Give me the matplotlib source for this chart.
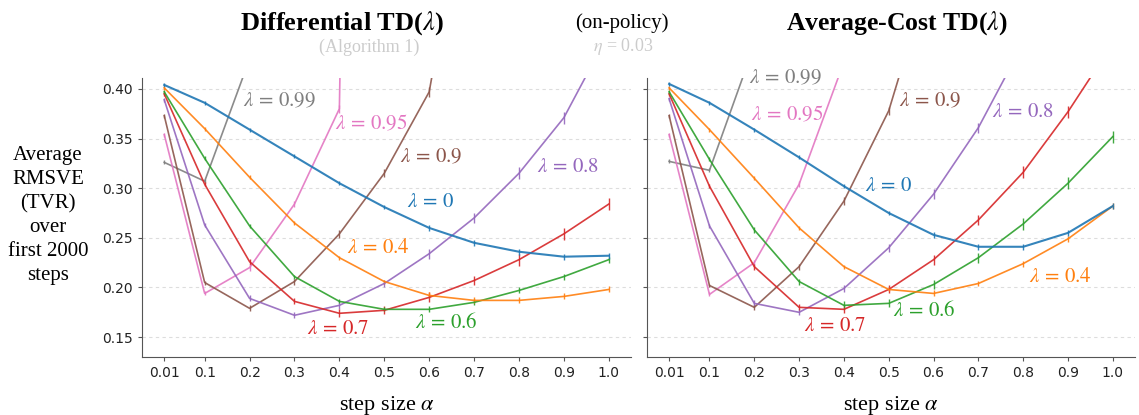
import matplotlib
matplotlib.use("Agg")
import matplotlib.pyplot as plt
import numpy as np

nan = np.nan

# step sizes
alphas = [0.01, 0.1, 0.2, 0.3, 0.4, 0.5, 0.6, 0.7, 0.8, 0.9, 1.0]
lambdas = ["0", "0.4", "0.6", "0.7", "0.8", "0.9", "0.95", "0.99"]
colors = ["C0", "C1", "C2", "C3", "C4", "C5", "C6", "C7"]

# Differential TD(lambda)
diff_l0 = [0.404, 0.386, 0.359, 0.332, 0.305, 0.281, 0.260, 0.245, 0.236, 0.231, 0.232]
diff_l04 = [0.401, 0.360, 0.311, 0.265, 0.230, 0.206, 0.192, 0.187, 0.187, 0.191, 0.198]
diff_l06 = [0.397, 0.330, 0.262, 0.211, 0.186, 0.178, 0.178, 0.185, 0.197, 0.211, 0.228]
diff_l07 = [0.395, 0.304, 0.226, 0.186, 0.174, 0.177, 0.190, 0.207, 0.228, 0.254, 0.284]
diff_l08 = [0.389, 0.263, 0.189, 0.172, 0.182, 0.204, 0.234, 0.270, 0.315, 0.371, 0.456]
diff_l09 = [0.373, 0.205, 0.179, 0.206, 0.254, 0.315, 0.397, 0.650, nan, nan, nan]
diff_l095 = [0.354, 0.194, 0.220, 0.284, 0.380, 3.000, nan, nan, nan, nan, nan]
diff_l099 = [0.326, 0.307, 0.430, nan, nan, nan, nan, nan, nan, nan, nan]

# Average-Cost TD(lambda)
avg_l0 = [0.405, 0.386, 0.359, 0.331, 0.302, 0.275, 0.253, 0.241, 0.241, 0.255, 0.282]
avg_l04 = [0.401, 0.359, 0.310, 0.260, 0.221, 0.198, 0.194, 0.204, 0.224, 0.249, 0.282]
avg_l06 = [0.397, 0.329, 0.258, 0.206, 0.182, 0.184, 0.203, 0.230, 0.264, 0.305, 0.352]
avg_l07 = [0.395, 0.302, 0.221, 0.180, 0.178, 0.198, 0.228, 0.268, 0.316, 0.377, 0.446]
avg_l08 = [0.390, 0.262, 0.184, 0.175, 0.199, 0.240, 0.294, 0.361, 0.446, nan, nan]
avg_l09 = [0.373, 0.202, 0.180, 0.221, 0.287, 0.378, 0.527, nan, nan, nan, nan]
avg_l095 = [0.354, 0.193, 0.225, 0.304, 0.427, nan, nan, nan, nan, nan, nan]
avg_l099 = [0.327, 0.318, 0.444, nan, nan, nan, nan, nan, nan, nan, nan]

# standard errors (small vertical ticks)
err_lo = [0.002, 0.002, 0.002, 0.002, 0.002, 0.002, 0.003, 0.003, 0.003, 0.003, 0.003]
err_hi = [0.002, 0.002, 0.003, 0.003, 0.004, 0.004, 0.005, 0.005, 0.006, 0.006, 0.006]

diff_series = [diff_l0, diff_l04, diff_l06, diff_l07, diff_l08, diff_l09, diff_l095, diff_l099]
avg_series = [avg_l0, avg_l04, avg_l06, avg_l07, avg_l08, avg_l09, avg_l095, avg_l099]
diff_errs = [err_lo, err_lo, err_lo, err_hi, err_hi, err_hi, err_hi, err_lo]
avg_errs = [err_lo, err_lo, err_hi, err_hi, err_hi, err_hi, err_hi, err_lo]

# label positions (alpha, value)
diff_label_x = [0.551, 0.418, 0.569, 0.329, 0.840, 0.536, 0.390, 0.185]
diff_label_y = [0.287, 0.241, 0.165, 0.159, 0.322, 0.332, 0.365, 0.388]
avg_label_x = [0.447, 0.813, 0.509, 0.311, 0.730, 0.523, 0.192, 0.189]
avg_label_y = [0.303, 0.212, 0.177, 0.162, 0.378, 0.388, 0.374, 0.4115]

plt.rcParams["mathtext.fontset"] = "stix"
serif = "Liberation Serif"

fig = plt.figure(figsize=(11.39, 4.15), dpi=100)
ax1 = fig.add_axes([0.1247, 0.1398, 0.4293, 0.6723])
ax2 = fig.add_axes([0.568, 0.1398, 0.4285, 0.6723])


def draw(ax, series, errs, lx, ly, show_labels):
    for i in range(len(series)):
        lw = 1.5 if i == 0 else 1.2
        ax.errorbar(alphas, series[i], yerr=errs[i], color=colors[i], lw=lw,
                    elinewidth=1.0, capsize=0, alpha=0.9, zorder=3 + (len(series) - i) * 0.01)
        ax.text(lx[i], ly[i], r"$\lambda\,=\," + lambdas[i] + "$", color=colors[i],
                fontsize=15, ha="left", va="center", clip_on=False)
    ax.set_xlim(-0.0395, 1.0495)
    ax.set_ylim(0.13, 0.411)
    ax.set_xticks(alphas)
    ax.set_xticklabels([str(a) for a in alphas])
    ax.set_yticks([0.15, 0.20, 0.25, 0.30, 0.35, 0.40])
    ax.grid(axis="y", ls=(0, (3, 3)), color="#dddddd", lw=0.8)
    ax.set_axisbelow(True)
    for s in ["top", "right"]:
        ax.spines[s].set_visible(False)
    for s in ["left", "bottom"]:
        ax.spines[s].set_color("#555555")
    ax.tick_params(colors="#555555", labelcolor="#222222", labelsize=10, length=3)
    if not show_labels:
        ax.tick_params(axis="y", labelleft=False)
    ax.set_xlabel(r"step size $\alpha$", fontsize=16, family=serif, labelpad=10)


draw(ax1, diff_series, diff_errs, diff_label_x, diff_label_y, True)
ax1.set_yticklabels(["0.15", "0.20", "0.25", "0.30", "0.35", "0.40"])
draw(ax2, avg_series, avg_errs, avg_label_x, avg_label_y, False)

fig.text(0.300, 0.945, r"Differential TD($\lambda$)", fontsize=19, fontweight="bold",
         family=serif, ha="center", va="center")
fig.text(0.324, 0.887, "(Algorithm 1)", fontsize=13, color="#cccccc",
         family=serif, ha="center", va="center")
fig.text(0.546, 0.945, "(on-policy)", fontsize=15, family=serif, ha="center", va="center")
fig.text(0.547, 0.887, r"$\eta$ = 0.03", fontsize=13, color="#cccccc",
         family=serif, ha="center", va="center")
fig.text(0.788, 0.945, r"Average-Cost TD($\lambda$)", fontsize=18.5, fontweight="bold",
         family=serif, ha="center", va="center")

fig.text(0.042, 0.48, "Average\nRMSVE\n(TVR)\nover\nfirst 2000\nsteps", fontsize=15,
         family=serif, ha="center", va="center", linespacing=1.35)

fig.savefig("out.png", dpi=100)
